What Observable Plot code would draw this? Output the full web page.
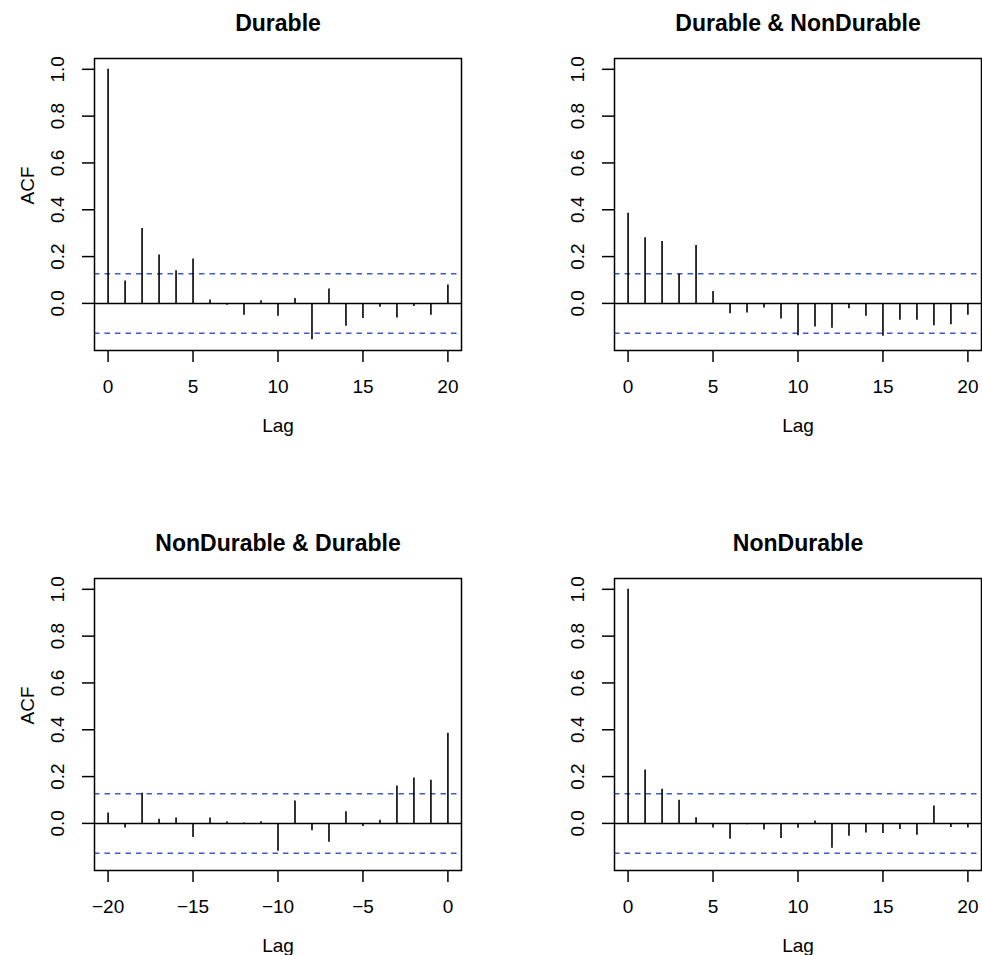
<!DOCTYPE html>
<html>
<head>
<meta charset="utf-8">
<script src="https://cdn.jsdelivr.net/npm/d3@7"></script>
<script src="https://cdn.jsdelivr.net/npm/@observablehq/plot@0.6"></script>
<style>
  html, body { margin: 0; padding: 0; background: white; }
  #wrap { position: relative; width: 982px; height: 955px; overflow: hidden; background: white; }
  .panel { position: absolute; }
</style>
</head>
<body>
<div id="wrap"></div>
<script>
// ---- Data ----
const lagsPos = d3.range(0, 21);
const lagsNeg = d3.range(-20, 1);

const acfDurable = [1.0, 0.096, 0.32, 0.207, 0.139, 0.19, 0.014, -0.008, -0.051, 0.011, -0.055,
  0.021, -0.155, 0.061, -0.098, -0.065, -0.016, -0.062, -0.013, -0.051, 0.079];
const ccfDurNon = [0.385, 0.28, 0.264, 0.125, 0.247, 0.051, -0.044, -0.041, -0.02, -0.067, -0.138,
  -0.101, -0.106, -0.023, -0.055, -0.14, -0.072, -0.072, -0.095, -0.091, -0.051];
const ccfNonDur = [0.044, -0.02, 0.129, 0.018, 0.023, -0.06, 0.023, 0.006, 0.002, 0.007, -0.119,
  0.096, -0.031, -0.081, 0.05, -0.013, 0.013, 0.16, 0.194, 0.184, 0.385];
const acfNonDurable = [1.0, 0.228, 0.146, 0.099, 0.024, -0.02, -0.068, -0.006, -0.028, -0.064, -0.021,
  0.01, -0.106, -0.055, -0.041, -0.043, -0.026, -0.051, 0.074, -0.017, -0.02];

const titles = ["Durable", "Durable & NonDurable", "NonDurable & Durable", "NonDurable"];
const ciBound = 0.127;
const yTicks = [0, 0.2, 0.4, 0.6, 0.8, 1.0];
const xTicksPos = [0, 5, 10, 15, 20];
const xTicksNeg = [-20, -15, -10, -5, 0];

// shared y range (as in R's plot.acf): range of all values and CI, expanded 4%
const allVals = [...acfDurable, ...ccfDurNon, ...ccfNonDur, ...acfNonDurable, ciBound, -ciBound];
const yMin = d3.min(allVals), yMax = d3.max(allVals);
const yPad = (yMax - yMin) * 0.04;
const yDomain = [yMin - yPad, yMax + yPad];

function xDomainOf(lags) {
  const lo = d3.min(lags), hi = d3.max(lags), p = (hi - lo) * 0.04;
  return [lo - p, hi + p];
}

const blue = "#3d5cc4";
const FS = 19;
const LW = 1.5;

function panel(title, lags, vals, xTicks, showYLabel) {
  const data = lags.map((l, i) => ({lag: l, acf: vals[i]}));
  return Plot.plot({
    width: 462,
    height: 440,
    marginLeft: 94,
    marginRight: 1,
    marginTop: 58,
    marginBottom: 90,
    style: {fontFamily: "'Liberation Sans', Arial, Helvetica, sans-serif", fontSize: FS + "px", color: "black", background: "transparent", overflow: "visible"},
    x: {domain: xDomainOf(lags)},
    y: {domain: yDomain},
    marks: [
      Plot.ruleY([ciBound, -ciBound], {stroke: blue, strokeWidth: 1.5, strokeDasharray: "5.5,5"}),
      Plot.ruleY([0], {stroke: "black", strokeWidth: LW}),
      Plot.ruleX(data, {x: "lag", y1: 0, y2: "acf", stroke: "black", strokeWidth: 1.6}),
      Plot.frame({stroke: "black", strokeWidth: LW}),
      Plot.axisX({ticks: xTicks, tickSize: 12, tickPadding: 17, tickFormat: d3.format("d"), label: null, strokeWidth: LW, fontSize: FS}),
      Plot.axisY({ticks: yTicks, tickSize: 12, tickPadding: 19, tickRotate: -90, tickFormat: d3.format(".1f"), label: null, strokeWidth: LW, fontSize: FS}),
      Plot.text([title], {text: d => d, frameAnchor: "top", lineAnchor: "middle", dy: -34.5, fontWeight: "bold", fontSize: 23}),
      Plot.text(["Lag"], {text: d => d, frameAnchor: "bottom", lineAnchor: "middle", dy: 75, fontSize: FS}),
      showYLabel ? Plot.text(["ACF"], {text: d => d, frameAnchor: "left", lineAnchor: "middle", dx: -67, rotate: -90, fontSize: FS}) : null
    ]
  });
}

const wrap = document.getElementById("wrap");
const specs = [
  {t: titles[0], l: lagsPos, v: acfDurable, xt: xTicksPos, yl: true, left: 0, top: 0},
  {t: titles[1], l: lagsPos, v: ccfDurNon, xt: xTicksPos, yl: false, left: 520, top: 0},
  {t: titles[2], l: lagsNeg, v: ccfNonDur, xt: xTicksNeg, yl: true, left: 0, top: 519.5},
  {t: titles[3], l: lagsPos, v: acfNonDurable, xt: xTicksPos, yl: false, left: 520, top: 519.5}
];
for (const s of specs) {
  const div = document.createElement("div");
  div.className = "panel";
  div.style.left = s.left + "px";
  div.style.top = s.top + "px";
  div.appendChild(panel(s.t, s.l, s.v, s.xt, s.yl));
  wrap.appendChild(div);
}
</script>
</body>
</html>
